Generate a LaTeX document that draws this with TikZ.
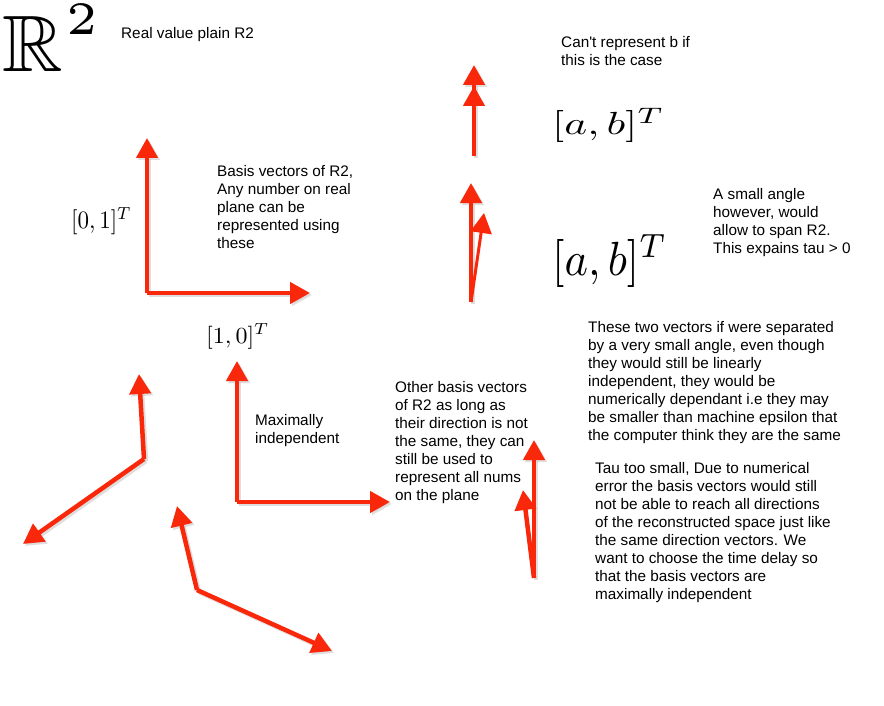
\documentclass[tikz,border=0pt]{standalone}
\usepackage{amssymb}
\usepackage{graphicx}
\usepackage{fontspec}
\setmainfont{Liberation Sans}[Ligatures=TeXOff]
\usetikzlibrary{arrows.meta}
\definecolor{vecred}{RGB}{250,40,10}
\tikzset{
  vec/.style={draw=vecred, line width=4.5pt, line cap=butt, line join=miter,
    -{Triangle[length=20pt,width=21pt]}},
  vecshadow/.style={draw=black!25, opacity=0.5, line width=4.5pt,
    -{Triangle[length=20pt,width=21pt]}, transform canvas={shift={(2pt,-2pt)}}},
  note/.style={inner sep=0pt, anchor=north west, align=left,
    font=\fontsize{15.3}{18}\selectfont},
  mathlbl/.style={inner sep=0pt, anchor=base west}
}
\begin{document}
\begin{tikzpicture}[x=1pt,y=-1pt]
\useasboundingbox[fill=white] (0,0) rectangle (884,706);

% title
\node[inner sep=0pt, anchor=base west] (title) at (2,72)
  {\scalebox{8.4}[8]{$\mathbb{R}$}\kern3pt\raisebox{37pt}{\scalebox{9.3}{$\scriptscriptstyle 2$}}};
\node[note] (realtxt) at (121,27) {Real value plain R2};

% standard basis
\coordinate (o1) at (147,293);
\coordinate (e2) at (147,138);
\coordinate (e1) at (310,293);
\draw[vecshadow] (o1) -- (e2);
\draw[vecshadow] (o1) -- (e1);
\draw[vec] (o1) -- (e2);
\draw[vec] (o1) -- (e1);
\node[mathlbl] (l01) at (71,229) {\scalebox{2.3}[2.5]{$[0,1]^T$}};
\node[mathlbl] (l10) at (206,343) {\scalebox{2.4}[2.3]{$[1,0]^T$}};
\node[note] (basistxt) at (217,165) {Basis vectors of R2,\\Any number on real\\plane can be\\represented using\\these};

% same direction
\coordinate (o2) at (474,156);
\coordinate (s1) at (474,65);
\coordinate (s2) at (474,86);
\draw[vecshadow] (o2) -- (s1);
\draw[vec] (o2) -- (s1);
\draw[vec] (o2) -- (s2);
\node[note] (cantxt) at (561,36) {Can't represent b if\\this is the case};
\node[mathlbl] (ab1) at (552,135) {\scalebox{4.35}[3.2]{$[a,b]^T$}};

% small angle
\coordinate (o3) at (471,302);
\coordinate (t1) at (471,183);
\coordinate (t2) at (484,213);
\draw[vecshadow] (o3) -- (t1);
\draw[vec] (o3) -- (t1);
\draw[vec, line width=3pt] (o3) -- (t2);
\node[mathlbl] (ab2) at (552,275) {\scalebox{4.45}[4.8]{$[a,b]^T$}};
\node[note] (smalltxt) at (713,188) {A small angle\\however, would\\allow to span R2.\\This expains tau > 0};
\node[note] (twotxt) at (588,321) {These two vectors if were separated\\by a very small angle, even though\\they would still be linearly\\independent, they would be\\numerically dependant i.e they may\\be smaller than machine epsilon that\\the computer think they are the same};

% maximally independent
\coordinate (o4) at (237,502);
\coordinate (m2) at (237,361);
\coordinate (m1) at (390,502);
\draw[vecshadow] (o4) -- (m2);
\draw[vecshadow] (o4) -- (m1);
\draw[vec] (o4) -- (m2);
\draw[vec] (o4) -- (m1);
\node[note] (maxtxt) at (255,414) {Maximally\\independent};

% other bases
\coordinate (o5) at (144,459);
\coordinate (a1) at (139,374);
\coordinate (a2) at (23,544);
\draw[vecshadow] (o5) -- (a1);
\draw[vecshadow] (o5) -- (a2);
\draw[vec] (o5) -- (a1);
\draw[vec] (o5) -- (a2);

\coordinate (o6) at (197,590);
\coordinate (b1) at (177,506);
\coordinate (b2) at (332,651);
\draw[vecshadow] (o6) -- (b1);
\draw[vecshadow] (o6) -- (b2);
\draw[vec] (o6) -- (b1);
\draw[vec] (o6) -- (b2);

\node[note] (othertxt) at (395,381) {Other basis vectors\\of R2 as long as\\their direction is not\\the same, they can\\still be used to\\represent all nums\\on the plane};

% near-parallel pair
\coordinate (o7) at (534,578);
\coordinate (c1) at (534,440);
\coordinate (c2) at (523,490);
\draw[vecshadow] (o7) -- (c1);
\draw[vec] (o7) -- (c1);
\draw[vec] (o7) -- (c2);

\node[note] (tautxt) at (595,462) {Tau too small, Due to numerical\\error the basis vectors would still\\not be able to reach all directions\\of the reconstructed space just like\\the same direction vectors. We\\want to choose the time delay so\\that the basis vectors are\\maximally independent};
\end{tikzpicture}
\end{document}
